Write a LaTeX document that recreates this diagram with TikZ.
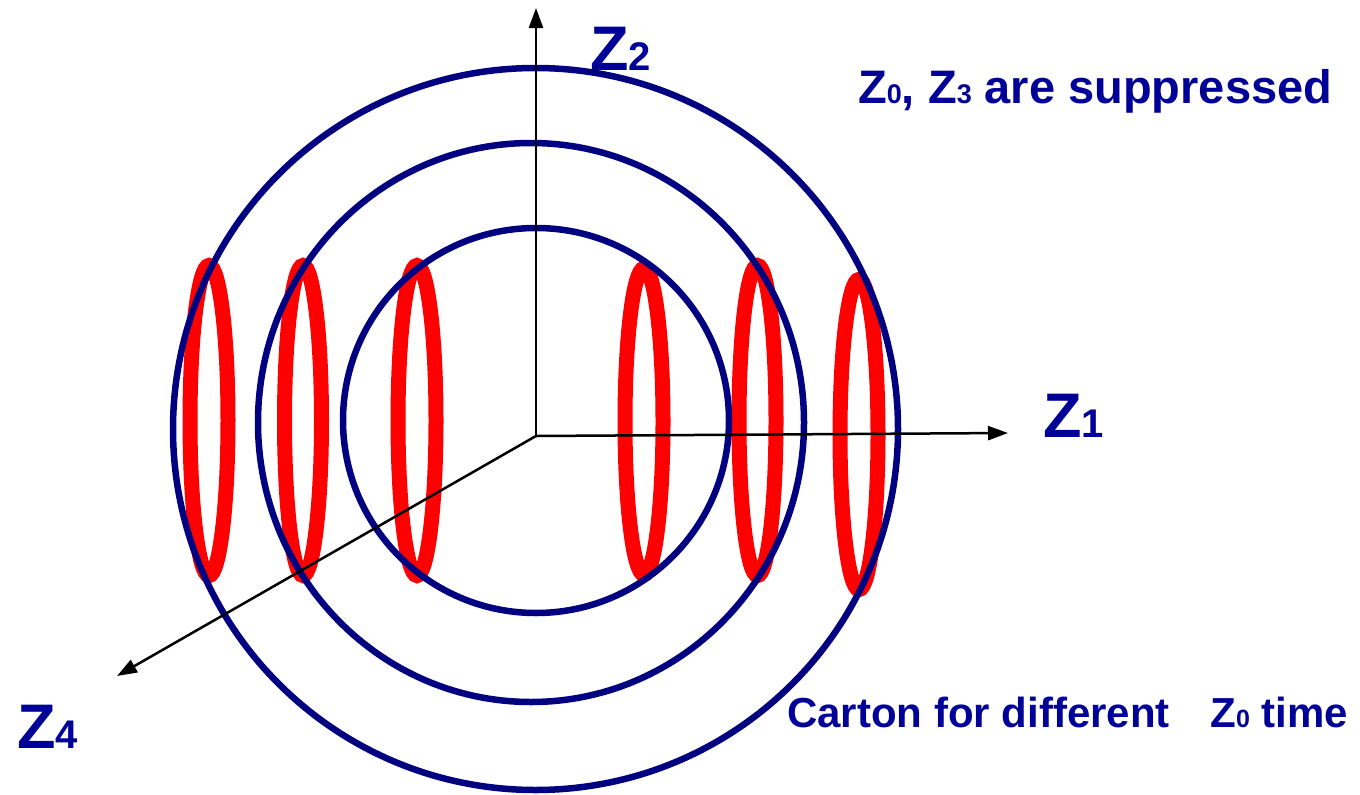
\documentclass[tikz,border=0pt]{standalone}
\usepackage{fontspec}
\setmainfont{Liberation Sans}
\usetikzlibrary{arrows.meta}
\definecolor{ringblue}{RGB}{0,0,128}
\definecolor{textblue}{RGB}{0,0,153}
\newcommand{\bigZ}[1]{{\fontsize{63}{63}\selectfont Z\fontsize{40}{40}\selectfont #1}}
\newcommand{\subd}[1]{{\fontsize{27}{27}\selectfont #1}}
\newcommand{\subs}[1]{{\fontsize{25}{25}\selectfont #1}}
\begin{document}
\begin{tikzpicture}[x=1pt,y=-1pt,
  ring/.style={draw=ringblue,line width=6.5pt},
  loop/.style={draw=red,line width=15pt},
  axis/.style={draw=black,line width=2.5pt,-{Triangle[length=20pt,width=14pt]}},
  lab/.style={text=textblue,font=\bfseries,inner sep=0pt,anchor=base west}]
\useasboundingbox (0,0) rectangle (1360,795);
% red loops
\draw[loop] (209,420.5) ellipse [x radius=19, y radius=155];
\draw[loop] (303,420.5) ellipse [x radius=18.5, y radius=155];
\draw[loop] (417,420.5) ellipse [x radius=19, y radius=155];
\draw[loop] (644,421.5) ellipse [x radius=19, y radius=153];
\draw[loop] (757.5,420.5) ellipse [x radius=18.5, y radius=155];
\draw[loop] (859,434.5) ellipse [x radius=19, y radius=155];
% rings
\draw[ring] (535.5,429) ellipse [x radius=362.5, y radius=361];
\draw[ring] (531,422.5) ellipse [x radius=273, y radius=279.5];
\draw[ring] (536,420.5) ellipse [x radius=193, y radius=192.5];
% axes
\coordinate (O) at (536,436);
\coordinate (E1) at (1008,433);
\coordinate (E2) at (536,8);
\coordinate (E4) at (117,676);
\draw[axis] (O) -- (E1);
\draw[axis] (O) -- (E2);
\draw[axis] (O) -- (E4);
% labels
\node[lab] (L1) at (1043,437) {\bigZ{1}};
\node[lab] (L2) at (590,70) {\bigZ{2}};
\node[lab] (L4) at (17,748) {\bigZ{4}};
\node[lab,font=\bfseries\fontsize{47}{47}\selectfont] (T1) at (858,103) {Z\subd{0}, Z\subd{3} are suppressed};
\node[lab,font=\bfseries\fontsize{42}{42}\selectfont] (T2) at (787,727) {Carton for different\hspace{29pt} Z\subs{0} time};
\end{tikzpicture}
\end{document}
